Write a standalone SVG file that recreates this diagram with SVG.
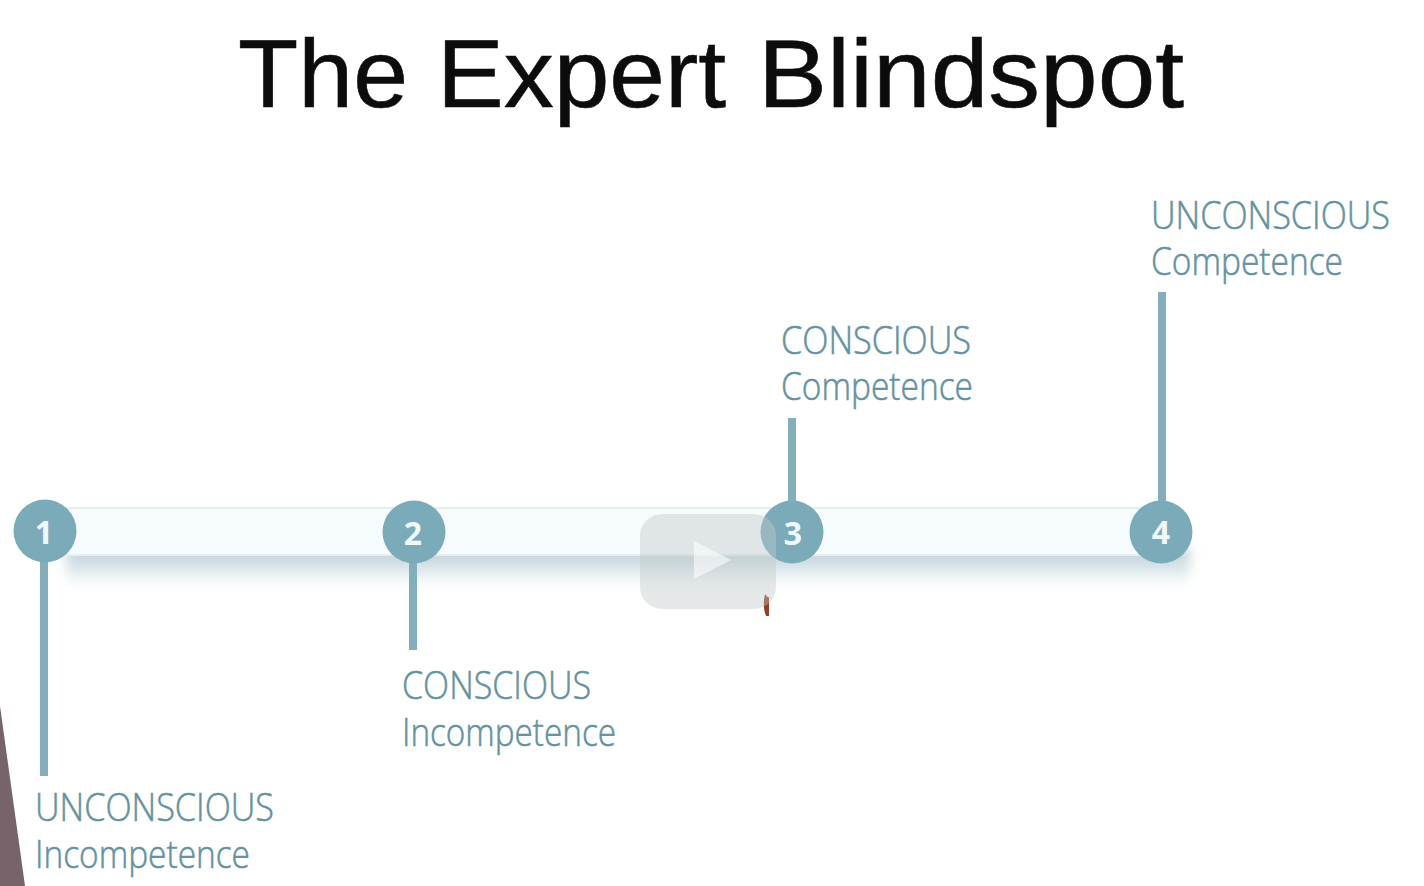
<svg xmlns="http://www.w3.org/2000/svg" width="1424" height="886" viewBox="0 0 1424 886">
<style>
.title{font-family:"Liberation Sans",Arial,sans-serif;font-size:96px;fill:#0c0c0c;stroke:#0c0c0c;stroke-width:.6px}
.lab{font-family:"Open Sans",sans-serif;font-weight:300;font-size:38px;fill:#64939f;stroke:#64939f;stroke-width:.55px}
.num{font-family:"Open Sans",sans-serif;font-weight:700;font-size:32px;fill:#f2f8fa;text-anchor:middle}
.dot{fill:#7babb9}
.line{fill:#83afbc}
</style>
<defs>
<linearGradient id="shadow" x1="0" y1="0" x2="0" y2="1">
<stop offset="0" stop-color="#b9ccd3"/><stop offset=".45" stop-color="#d5e2e7"/><stop offset="1" stop-color="#ffffff"/>
</linearGradient>
<filter id="blur" x="-10%" y="-60%" width="120%" height="220%"><feGaussianBlur stdDeviation="6"/></filter>
<filter id="soft" x="-5%" y="-5%" width="110%" height="110%"><feGaussianBlur stdDeviation=".5"/></filter>
</defs>
<rect width="1424" height="886" fill="#ffffff"/>
<path id="corner" d="M0 706L25 886L0 886Z" fill="#76646a"/>
<text class="title" y="107"><tspan x="238" textLength="170" lengthAdjust="spacingAndGlyphs">The</tspan> <tspan x="437" textLength="289" lengthAdjust="spacingAndGlyphs">Expert</tspan> <tspan x="758" textLength="426" lengthAdjust="spacingAndGlyphs">Blindspot</tspan></text>
<g id="bar">
<rect x="66" y="548" width="1124" height="38" fill="url(#shadow)" filter="url(#blur)"/>
<rect x="60" y="508" width="1090" height="47" fill="#f6fbfe" stroke="#e6efef" stroke-width="2"/>
</g>
<g id="connectors" filter="url(#soft)">
<rect class="line" x="40" y="550" width="8" height="226"/>
<rect class="line" x="409" y="550" width="8" height="100"/>
<rect class="line" x="788" y="418" width="8" height="100"/>
<rect class="line" x="1158" y="292" width="8" height="220"/>
</g>
<g id="node1"><circle class="dot" cx="45" cy="531" r="31.500"/><text class="num" x="44" y="544">1</text></g>
<g id="node2"><circle class="dot" cx="414" cy="532" r="31.500"/><text class="num" x="413" y="545">2</text></g>
<g id="node3"><circle class="dot" cx="792" cy="532" r="31.500"/><text class="num" x="793" y="545">3</text></g>
<g id="node4"><circle class="dot" cx="1161" cy="532" r="31.500"/><text class="num" x="1161" y="544">4</text></g>
<g id="label1"><text class="lab" x="35" y="821" textLength="239" lengthAdjust="spacingAndGlyphs">UNCONSCIOUS</text><text class="lab" x="35" y="868" textLength="215" lengthAdjust="spacingAndGlyphs">Incompetence</text></g>
<g id="label2"><text class="lab" x="402" y="699" textLength="189" lengthAdjust="spacingAndGlyphs">CONSCIOUS</text><text class="lab" x="402" y="746" textLength="214" lengthAdjust="spacingAndGlyphs">Incompetence</text></g>
<g id="label3"><text class="lab" x="781" y="354" textLength="190" lengthAdjust="spacingAndGlyphs">CONSCIOUS</text><text class="lab" x="781" y="400" textLength="192" lengthAdjust="spacingAndGlyphs">Competence</text></g>
<g id="label4"><text class="lab" x="1151" y="229" textLength="239" lengthAdjust="spacingAndGlyphs">UNCONSCIOUS</text><text class="lab" x="1151" y="275" textLength="192" lengthAdjust="spacingAndGlyphs">Competence</text></g>
<g id="player">
<path d="M765 594Q768 598 769 597L769 616L766 616Q762 606 765 594Z" fill="#8f3f22"/>
<rect x="640" y="514" width="136" height="95" rx="22" fill="#c0c8cb" fill-opacity=".42"/>
<path d="M694 541L731 560L694 579Z" fill="#ffffff" fill-opacity=".55"/>
</g>
</svg>
